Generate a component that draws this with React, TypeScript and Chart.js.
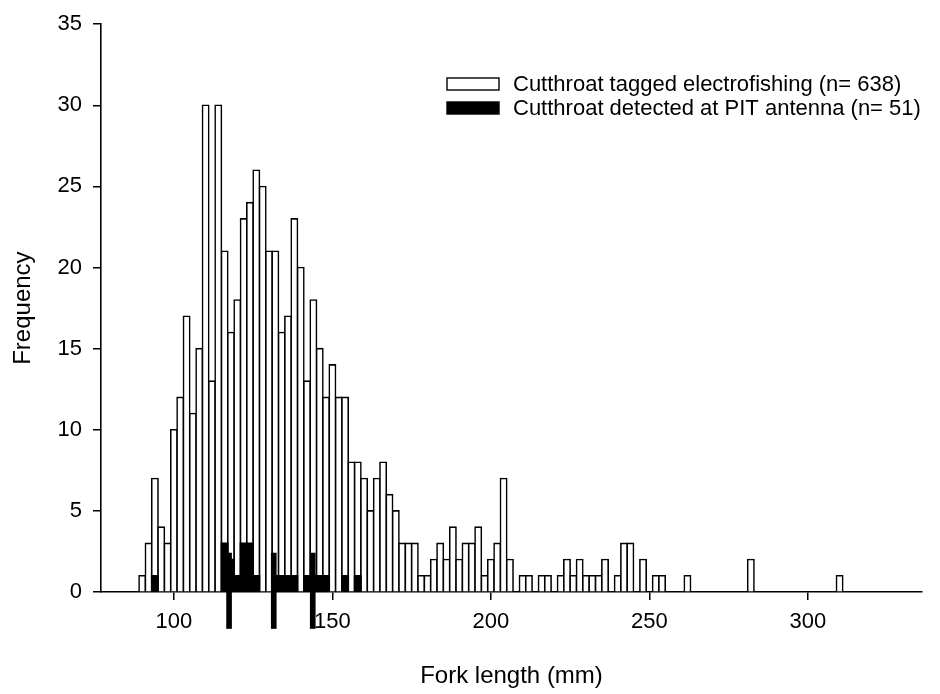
import React, { useEffect, useRef } from "react";
import { Chart, registerables } from "chart.js";

Chart.register(...registerables);

// Histogram bins (fork length, mm, bin centres, 2 mm wide)
const taggedBins = [
  90, 92, 94, 96, 98, 100, 102, 104, 106, 108, 110, 112, 114, 116, 118, 120, 122, 124, 126, 128,
  130, 132, 134, 136, 138, 140, 142, 144, 146, 148, 150, 152, 154, 156, 158, 160, 162, 164, 166, 168,
  170, 172, 174, 176, 178, 180, 182, 184, 186, 188, 190, 192, 194, 196, 198, 200, 202, 204, 206, 208,
  210, 212, 214, 216, 218, 220, 222, 224, 226, 228, 230, 232, 234, 236, 238, 240, 242, 244, 246, 248,
  250, 252, 254, 262, 282, 310,
];
const taggedCounts = [
  1, 3, 7, 4, 3, 10, 12, 17, 11, 15, 30, 13, 30, 21, 16, 18, 23, 24, 26, 25,
  21, 21, 16, 17, 23, 20, 13, 18, 15, 12, 14, 12, 12, 8, 8, 7, 5, 7, 8, 6,
  5, 3, 3, 3, 1, 1, 2, 3, 2, 4, 2, 3, 3, 4, 1, 2, 3, 7, 2, 0,
  1, 1, 0, 1, 1, 0, 1, 2, 1, 2, 1, 1, 1, 2, 0, 1, 3, 3, 0, 2,
  0, 1, 1, 1, 2, 1,
];

const detectedBins = [94, 116, 118, 120, 122, 124, 126, 132, 134, 136, 138, 142, 144, 146, 148, 154, 158];
const detectedCounts = [1, 3, 2, 1, 3, 3, 1, 1, 1, 1, 1, 1, 1, 1, 1, 1, 1];

// Narrow black marks that extend below the axis in the original figure
const spikeCentres = [117.4, 131.5, 143.8];
const spikeLows = [-2.25, -2.25, -2.25];
const spikeHighs = [2.4, 2.4, 2.4];

const xTickValues = [100, 150, 200, 250, 300];
const yTickValues = [0, 5, 10, 15, 20, 25, 30, 35];
const xRange = [77, 336];
const yRange = [0, 35];

const seriesLabels = [
  "Cutthroat tagged electrofishing (n= 638)",
  "Cutthroat detected at PIT antenna (n= 51)",
];

const FONT = '"Liberation Sans", Arial, Helvetica, sans-serif';

const boxLegend = {
  id: "boxLegend",
  afterDraw(chart: any) {
    const ctx = chart.ctx;
    const x = 447;
    const y0 = 78;
    const rowH = 24;
    const bw = 52;
    const bh = 12;
    ctx.save();
    ctx.font = `22px ${FONT}`;
    ctx.textBaseline = "middle";
    ctx.textAlign = "left";
    [0, 1].forEach((i) => {
      const ds = chart.data.datasets[i];
      const y = y0 + i * rowH;
      ctx.fillStyle = ds.backgroundColor;
      ctx.fillRect(x, y, bw, bh);
      ctx.strokeStyle = "#000";
      ctx.lineWidth = 1.4;
      ctx.strokeRect(x, y, bw, bh);
      ctx.fillStyle = "#000";
      ctx.fillText(ds.label, x + bw + 14, y + bh / 2 + 1);
    });
    ctx.restore();
  },
};

export default function App() {
  const canvasRef = useRef<HTMLCanvasElement | null>(null);

  useEffect(() => {
    if (!canvasRef.current) return;
    const white = taggedBins
      .map((b, i) => ({ x: b, y: taggedCounts[i] }))
      .filter((p) => p.y > 0);
    const black = detectedBins.map((b, i) => ({ x: b, y: detectedCounts[i] }));
    const spikes = spikeCentres.map((c, i) => ({ x: c, y: [spikeLows[i], spikeHighs[i]] }));

    const gridStyle = {
      drawOnChartArea: false,
      drawTicks: true,
      tickLength: 8,
      color: "#000",
      lineWidth: 1.5,
      offset: false,
    };

    const chart = new Chart(canvasRef.current, {
      type: "bar",
      data: {
        datasets: [
          {
            label: seriesLabels[0],
            data: white as any,
            backgroundColor: "#ffffff",
            borderColor: "#000000",
            borderWidth: 1.6,
            inflateAmount: 0.8,
            grouped: false,
            barPercentage: 1,
            categoryPercentage: 1,
            order: 2,
          } as any,
          {
            label: seriesLabels[1],
            data: black as any,
            backgroundColor: "#000000",
            borderWidth: 0,
            inflateAmount: 0.8,
            grouped: false,
            barPercentage: 1,
            categoryPercentage: 1,
            order: 1,
          } as any,
          {
            label: "spikes",
            data: spikes as any,
            xAxisID: "x2",
            backgroundColor: "#000000",
            borderWidth: 0,
            barThickness: 5,
            grouped: false,
            clip: false,
            order: 0,
          } as any,
        ],
      },
      options: {
        animation: false,
        responsive: true,
        maintainAspectRatio: false,
        layout: { padding: { top: 18, right: 18, left: 0, bottom: 0 } },
        plugins: {
          legend: { display: false },
          tooltip: { enabled: false },
        },
        scales: {
          x: {
            type: "linear",
            offset: false,
            min: xRange[0],
            max: xRange[1],
            afterBuildTicks: (s: any) => {
              s.ticks = xTickValues.map((v) => ({ value: v }));
            },
            afterFit: (s: any) => {
              s.height = 102;
            },
            grid: gridStyle,
            border: { display: true, color: "#000", width: 1.6 },
            ticks: {
              color: "#000",
              font: { family: FONT, size: 22 },
              padding: 9,
              maxRotation: 0,
            },
            title: {
              display: true,
              text: "Fork length (mm)",
              color: "#000",
              font: { family: FONT, size: 24 },
              padding: { top: 0, bottom: 3 },
            },
          },
          x2: {
            type: "linear",
            offset: false,
            min: xRange[0],
            max: xRange[1],
            display: false,
          },
          y: {
            min: yRange[0],
            max: yRange[1],
            afterBuildTicks: (s: any) => {
              s.ticks = yTickValues.map((v) => ({ value: v }));
            },
            afterFit: (s: any) => {
              s.width = 101;
            },
            grid: gridStyle,
            border: { display: true, color: "#000", width: 1.6 },
            ticks: {
              color: "#000",
              font: { family: FONT, size: 22 },
              padding: 11,
            },
            title: {
              display: true,
              text: "Frequency",
              color: "#000",
              font: { family: FONT, size: 24 },
              padding: { top: 9, bottom: 0 },
            },
          },
        },
      },
      plugins: [boxLegend],
    });
    return () => chart.destroy();
  }, []);

  return (
    <div style={{ position: "fixed", left: 0, top: 0, width: 940, height: 694, background: "#fff" }}>
      <canvas ref={canvasRef} />
    </div>
  );
}
